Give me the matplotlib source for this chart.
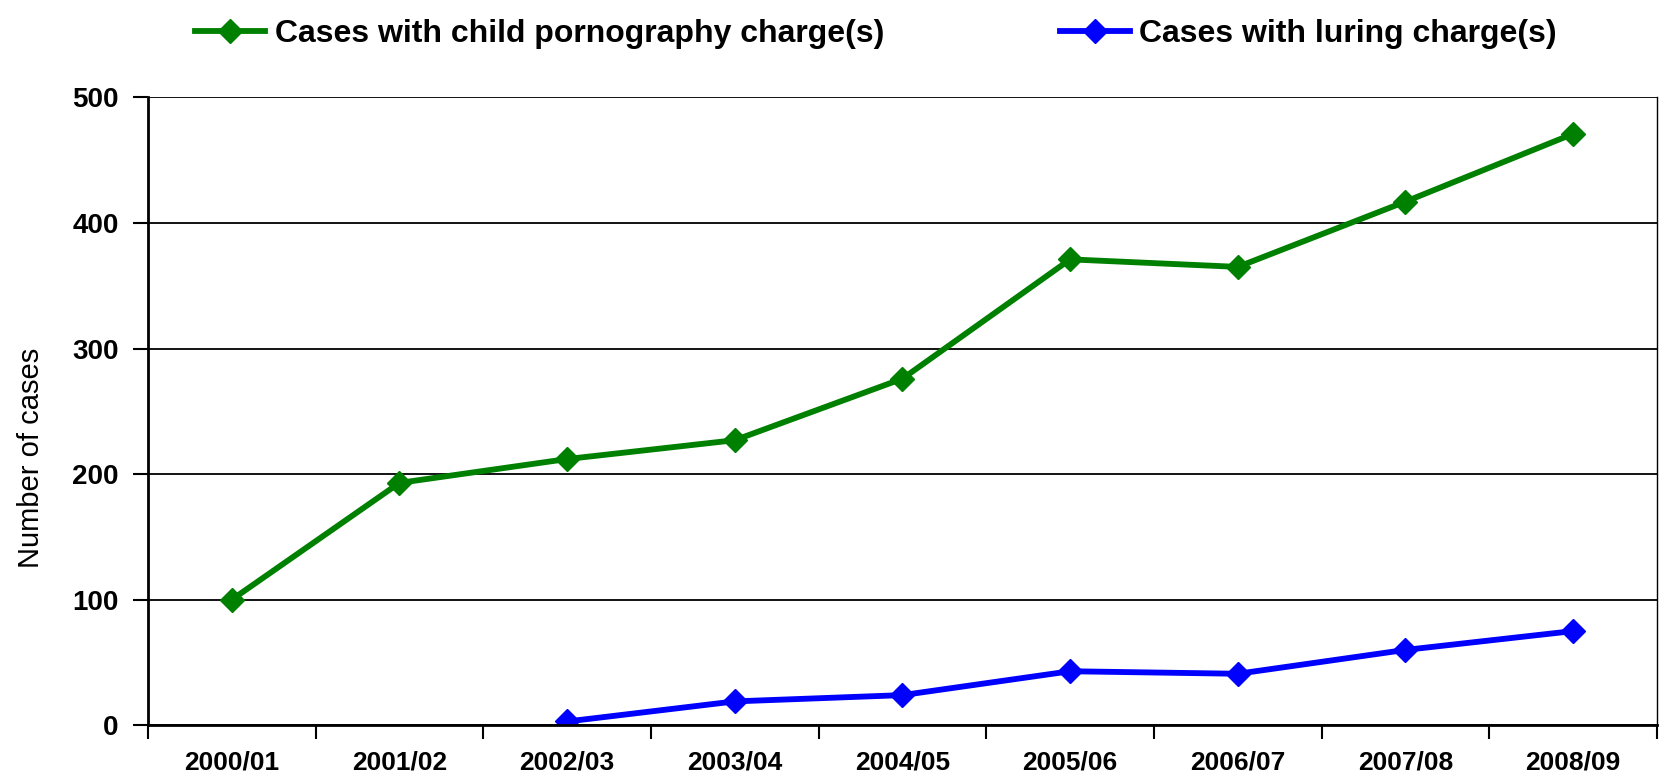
import matplotlib.pyplot as plt
import numpy as np

plt.rcParams['font.family'] = ['Liberation Sans', 'DejaVu Sans']

years = ['2000/01', '2001/02', '2002/03', '2003/04', '2004/05',
         '2005/06', '2006/07', '2007/08', '2008/09']
porn = [100, 193, 212, 227, 276, 371, 365, 417, 471]
luring = [np.nan, np.nan, 3, 19, 24, 43, 41, 60, 75]

fig = plt.figure(figsize=(16.62, 7.79), dpi=100)
ax = fig.add_axes([0.089, 0.069, 0.908, 0.806])

x = np.arange(len(years))
ax.plot(x, porn, color='#008000', lw=4.2, marker='D', ms=12,
        label='Cases with child pornography charge(s)')
ax.plot(x, luring, color='#0000FF', lw=4.2, marker='D', ms=12,
        label='Cases with luring charge(s)')

ax.set_xlim(-0.5, len(years) - 0.5)
ax.set_ylim(0, 500)
ax.set_yticks([0, 100, 200, 300, 400, 500])
ax.yaxis.grid(True, color='black', lw=1.3)
ax.set_axisbelow(True)

# etiquetas centradas, marcas entre categorias
ax.set_xticks(x)
ax.set_xticklabels(years, fontsize=19, fontweight='bold')
ax.tick_params(axis='x', which='major', length=0, pad=18)
ax.set_xticks(np.arange(-0.5, len(years)), minor=True)
ax.tick_params(axis='x', which='minor', length=10, width=1.5, direction='out')
ax.tick_params(axis='y', length=11, width=1.5, labelsize=20, pad=10)
for t in ax.get_yticklabels():
    t.set_fontweight('bold')

ax.spines['top'].set_visible(False)
ax.spines['left'].set_linewidth(2)
ax.spines['bottom'].set_linewidth(2)
ax.spines['right'].set_linewidth(1)

ax.set_ylabel('Number of cases', fontsize=21)
ax.yaxis.set_label_coords(-0.068, 0.426)

fig.legend(loc='upper center', bbox_to_anchor=(0.527, 1.012), ncol=2,
           frameon=False, prop={'size': 23, 'weight': 'bold'},
           columnspacing=5.5, handlelength=2.2, handletextpad=0.3)

fig.savefig('out.png', dpi=100)
